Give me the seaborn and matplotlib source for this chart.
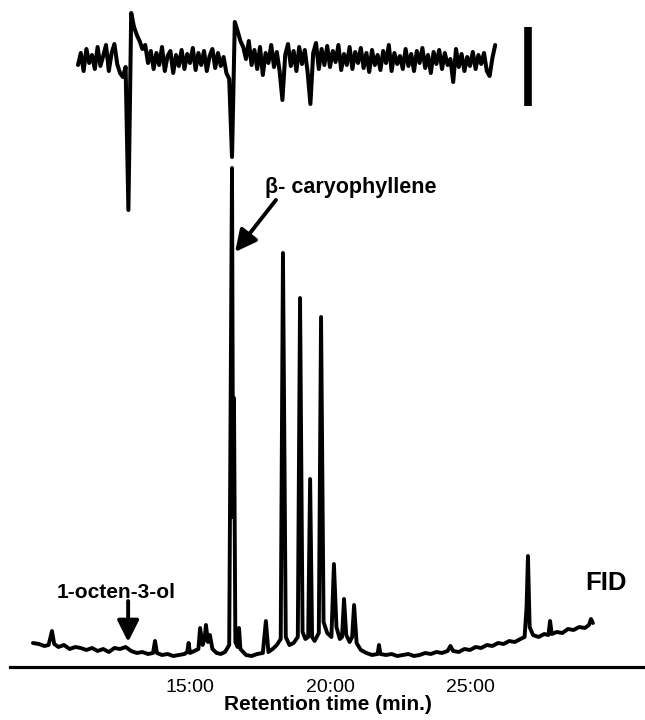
import numpy as np
import pandas as pd
import matplotlib
matplotlib.use("Agg")
import matplotlib.pyplot as plt
import seaborn as sns

# FID trace (retention time in min, detector response in arbitrary units)
fid_time = [9.39, 9.6, 9.8, 9.95, 10.07, 10.15, 10.3, 10.5, 10.7, 10.9,
            11.1, 11.3, 11.5, 11.7, 11.9, 12.1, 12.3, 12.5, 12.7, 12.9,
            13.1, 13.3, 13.5, 13.68, 13.75, 13.82, 14.0, 14.2, 14.4, 14.6,
            14.8, 14.9, 14.95, 15.0, 15.15, 15.3, 15.36, 15.45, 15.52, 15.57,
            15.64, 15.71, 15.8, 15.95, 16.1, 16.25, 16.4, 16.5, 16.54, 16.57,
            16.62, 16.7, 16.75, 16.8, 17.0, 17.2, 17.4, 17.6, 17.71, 17.8,
            17.95, 18.1, 18.24, 18.32, 18.42, 18.55, 18.7, 18.85, 18.93, 19.02,
            19.12, 19.22, 19.29, 19.36, 19.45, 19.6, 19.68, 19.77, 19.9, 20.05,
            20.14, 20.23, 20.35, 20.43, 20.5, 20.58, 20.7, 20.79, 20.86, 20.95,
            21.1, 21.3, 21.5, 21.7, 21.75, 21.8, 22.0, 22.2, 22.4, 22.6,
            22.8, 23.0, 23.2, 23.4, 23.6, 23.8, 24.0, 24.2, 24.3, 24.4,
            24.6, 24.8, 25.0, 25.2, 25.4, 25.6, 25.8, 26.0, 26.2, 26.4,
            26.6, 26.8, 26.95, 27.02, 27.07, 27.13, 27.25, 27.45, 27.65, 27.8,
            27.86, 27.92, 28.1, 28.3, 28.5, 28.7, 28.9, 29.1, 29.25, 29.32,
            29.39]
fid_signal = [24, 23, 21, 22, 36, 23, 20, 22, 18, 20,
              19, 17, 19, 16, 18, 15, 19, 18, 20, 16,
              14, 15, 13, 14, 26, 14, 12, 13, 11, 12,
              13, 15, 24, 14, 16, 18, 39, 22, 28, 42,
              25, 32, 18, 14, 13, 15, 22, 499, 150, 269,
              25, 20, 39, 18, 12, 11, 13, 14, 46, 15,
              18, 22, 28, 414, 30, 22, 24, 30, 369, 35,
              28, 30, 188, 30, 26, 34, 350, 45, 34, 30,
              103, 40, 28, 30, 68, 32, 25, 30, 62, 24,
              17, 14, 12, 13, 22, 13, 12, 13, 11, 12,
              13, 11, 12, 14, 13, 15, 14, 16, 21, 16,
              15, 18, 17, 20, 19, 22, 21, 24, 23, 26,
              25, 28, 30, 60, 111, 40, 32, 30, 33, 32,
              46, 33, 35, 34, 38, 37, 40, 39, 42, 48,
              44]

# EAD trace, one reading every 0.1 min from 11.0 to 25.9 min (offset above FID)
ead_start, ead_step = 11.0, 0.1
ead_signal = [602, 614, 596, 618, 604, 612, 598, 620, 601, 611,
              622, 596, 614, 623, 603, 594, 590, 600, 457, 654,
              640, 632, 626, 618, 622, 604, 616, 598, 614, 602,
              620, 596, 611, 616, 594, 612, 601, 617, 598, 613,
              604, 619, 597, 614, 602, 616, 596, 611, 618, 599,
              614, 601, 610, 594, 588, 510, 645, 636, 626, 620,
              608, 626, 602, 617, 598, 620, 592, 614, 604, 622,
              600, 615, 596, 567, 612, 623, 601, 616, 596, 620,
              603, 617, 595, 563, 614, 624, 598, 618, 602, 621,
              600, 616, 605, 622, 597, 613, 602, 620, 598, 615,
              604, 619, 599, 614, 595, 617, 602, 612, 597, 616,
              604, 622, 596, 614, 603, 611, 598, 618, 601, 613,
              596, 616, 604, 619, 599, 612, 594, 615, 603, 617,
              598, 614, 602, 608, 585, 618, 600, 613, 596, 610,
              601, 615, 598, 612, 603, 614, 596, 591, 609, 622]
ead_time = np.round(ead_start + ead_step * np.arange(len(ead_signal)), 2)

# EAD amplitude scale bar
scale_time = [27.07, 27.07]
scale_signal = [561, 640]

tick_pos = [15, 20, 25]
tick_labels = ["15:00", "20:00", "25:00"]

sns.set_style("white")
plt.rcParams["font.family"] = ["Liberation Sans", "DejaVu Sans"]
plt.rcParams["text.color"] = "black"
plt.rcParams["xtick.color"] = "black"
plt.rcParams["axes.labelcolor"] = "black"

fid = pd.DataFrame({"time": fid_time, "signal": fid_signal})
ead = pd.DataFrame({"time": ead_time, "signal": ead_signal})

fig = plt.figure(figsize=(6.45, 7.2), dpi=100)
ax = fig.add_axes([10 / 645, 53 / 720, 635 / 645, 667 / 720])

sns.lineplot(data=fid, x="time", y="signal", ax=ax, color="black",
             lw=2.8, sort=False, estimator=None)
sns.lineplot(data=ead, x="time", y="signal", ax=ax, color="black",
             lw=2.9, sort=False, estimator=None)
ax.plot(scale_time, scale_signal, color="black", lw=5.5, solid_capstyle="butt")

ax.set_xlim(8.571, 31.25)
ax.set_ylim(0, 667)

for s in ["top", "right", "left"]:
    ax.spines[s].set_visible(False)
ax.spines["bottom"].set_linewidth(2.3)
ax.spines["bottom"].set_color("black")
ax.set_yticks([])
ax.set_xticks(tick_pos)
ax.set_xticklabels(tick_labels, fontsize=14)
ax.tick_params(axis="x", direction="out", length=7, width=2.3, pad=2)
ax.set_xlabel("Retention time (min.)", fontsize=15, fontweight="bold", labelpad=-1)
ax.set_ylabel("")

# labels and arrows
arrow_style = dict(arrowstyle="-|>,head_length=1.3,head_width=0.65",
                   color="black", lw=2.8, shrinkA=0, shrinkB=0)
ax.text(20.75, 479, "β- caryophyllene", fontsize=15.5, fontweight="bold",
        ha="center", va="center")
ax.annotate("", xy=(16.61, 415), xytext=(18.07, 467), arrowprops=arrow_style)
ax.text(12.36, 74, "1-octen-3-ol", fontsize=15, fontweight="bold",
        ha="center", va="center")
ax.annotate("", xy=(12.79, 25), xytext=(12.79, 66), arrowprops=arrow_style)
ax.text(29.86, 84, "FID", fontsize=18.5, fontweight="bold",
        ha="center", va="center")

fig.savefig("out.png", dpi=100)
